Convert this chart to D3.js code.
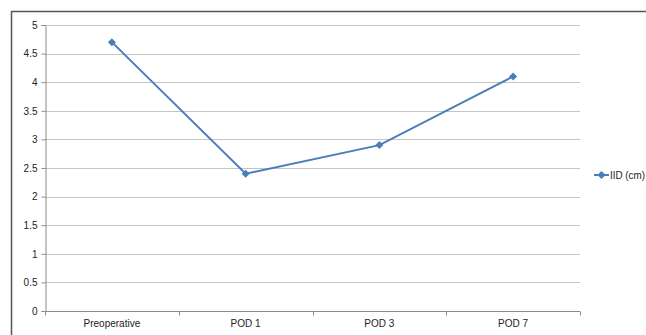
<!DOCTYPE html>
<html>
<head>
<meta charset="utf-8">
<script src="https://cdn.jsdelivr.net/npm/d3@7"></script>
<style>
  html, body { margin: 0; padding: 0; background: #fff; }
  svg { display: block; }
  text { font-family: "Liberation Sans", "DejaVu Sans", sans-serif; fill: #222; }
</style>
</head>
<body>
<svg id="chart" width="646" height="335"></svg>
<script>
const categories = ["Preoperative", "POD 1", "POD 3", "POD 7"];
const values = [4.7, 2.4, 2.9, 4.1];
const yTicks = [0, 0.5, 1, 1.5, 2, 2.5, 3, 3.5, 4, 4.5, 5];
const seriesName = "IID (cm)";

const W = 646, H = 335;
const plot = { left: 45, right: 580, top: 25, bottom: 311 };
const lineColor = "#4a7ebb";

const svg = d3.select("#chart");

// Chart frame
svg.append("rect")
  .attr("x", 11.5).attr("y", 11.5)
  .attr("width", W + 20).attr("height", H + 20)
  .attr("fill", "none").attr("stroke", "#555").attr("stroke-width", 1.5);

const x = d3.scaleBand().domain(categories).range([plot.left, plot.right]);
const y = d3.scaleLinear().domain([0, 5]).range([plot.bottom, plot.top]);

// Horizontal gridlines
svg.append("g")
  .selectAll("line")
  .data(yTicks.filter(d => d > 0))
  .join("line")
  .attr("x1", plot.left).attr("x2", plot.right)
  .attr("y1", d => Math.round(y(d)) + 0.5).attr("y2", d => Math.round(y(d)) + 0.5)
  .attr("stroke", "#c4c4c4").attr("stroke-width", 1);

// Y axis
const yAxis = svg.append("g")
  .attr("transform", `translate(${plot.left + 0.5},0)`)
  .call(d3.axisLeft(y).tickValues(yTicks).tickSize(4).tickPadding(4).tickFormat(d3.format("")));
yAxis.select(".domain").attr("stroke", "#8c8c8c");
yAxis.selectAll(".tick line").attr("stroke", "#8c8c8c");
yAxis.selectAll(".tick text").attr("font-size", 10).attr("fill", "#222")
  .style("font-family", "'Liberation Sans', sans-serif");

// X axis with tick marks on category boundaries
const xAxisG = svg.append("g")
  .attr("transform", `translate(0,${plot.bottom + 0.5})`);
xAxisG.append("line")
  .attr("x1", plot.left).attr("x2", plot.right)
  .attr("stroke", "#8c8c8c");
const boundaries = categories.map(c => x(c)).concat([x(categories[categories.length - 1]) + x.bandwidth()]);
xAxisG.selectAll("line.tick")
  .data(boundaries)
  .join("line")
  .attr("class", "tick")
  .attr("x1", d => Math.round(d) + 0.5).attr("x2", d => Math.round(d) + 0.5)
  .attr("y1", 0).attr("y2", 4)
  .attr("stroke", "#8c8c8c");
xAxisG.selectAll("text")
  .data(categories)
  .join("text")
  .attr("x", d => x(d) + x.bandwidth() / 2)
  .attr("y", 15)
  .attr("text-anchor", "middle")
  .attr("font-size", 10)
  .text(d => d);

// Series line
const line = d3.line()
  .x((d, i) => x(categories[i]) + x.bandwidth() / 2)
  .y(d => y(d));
svg.append("path")
  .datum(values)
  .attr("d", line)
  .attr("fill", "none")
  .attr("stroke", lineColor)
  .attr("stroke-width", 2);

// Square diamond marker
const r = 4;
const diamondPath = `M0,${-r}L${r},0L0,${r}L${-r},0Z`;
svg.append("g")
  .selectAll("path")
  .data(values)
  .join("path")
  .attr("d", diamondPath)
  .attr("transform", (d, i) => `translate(${x(categories[i]) + x.bandwidth() / 2},${y(d)})`)
  .attr("fill", lineColor);

// Legend
const lg = svg.append("g").attr("transform", "translate(594,175)");
lg.append("line").attr("x1", 0).attr("x2", 15).attr("y1", 0).attr("y2", 0)
  .attr("stroke", lineColor).attr("stroke-width", 2);
lg.append("path").attr("d", diamondPath).attr("transform", "translate(7.5,0)").attr("fill", lineColor);
lg.append("text").attr("x", 16).attr("y", 3.5).attr("font-size", 10)
  .attr("textLength", 35).attr("lengthAdjust", "spacingAndGlyphs")
  .text(seriesName);
</script>
</body>
</html>
